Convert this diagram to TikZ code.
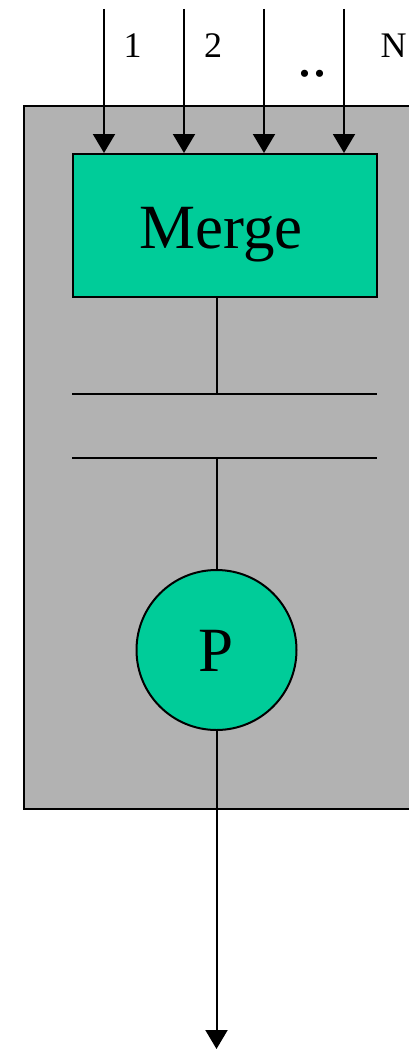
\documentclass[tikz,border=0pt]{standalone}
\usepackage{fontspec}
\setmainfont{Liberation Serif}
\usetikzlibrary{arrows.meta}
\definecolor{boxgreen}{HTML}{00CC99}
\definecolor{casegray}{HTML}{B2B2B2}
\tikzset{
  wire/.style={line width=2pt, draw=black},
  arr/.style={wire, -{Triangle[width=22pt,length=19pt]}},
  unit/.style={draw=black, line width=2pt, fill=boxgreen, inner sep=0pt},
  lbl/.style={inner sep=0pt, anchor=base, font=\fontsize{36}{40}\selectfont},
}
\begin{document}
\begin{tikzpicture}[x=1pt,y=-1pt]
  \useasboundingbox (0,0) rectangle (408,1049);
  % housing
  \draw[line width=2pt, fill=casegray] (24,106) rectangle (420,809);
  % merge unit
  \node[unit, rectangle, minimum width=304pt, minimum height=143pt]
    (merge) at (224.5,225.5) {};
  \node[inner sep=0pt, anchor=base, font=\fontsize{63}{70}\selectfont]
    (mergetext) at (221,248) {Merge};
  % input streams
  \foreach \i/\x in {1/104,2/184,3/264,4/344} {
    \coordinate (in\i) at (\x,9);
    \draw[arr] (in\i) -- (in\i |- merge.north);
  }
  \node[lbl] (l1) at (132.5,57) {1};
  \node[lbl] (l2) at (213,57) {2};
  \node[lbl, font=\fontsize{60}{66}\selectfont] (ldots) at (312,76) {..};
  \node[lbl] (lN) at (393.5,57) {N};
  % buffer
  \coordinate (b1l) at (72,394);
  \coordinate (b1r) at (377,394);
  \coordinate (b2l) at (72,458);
  \coordinate (b2r) at (377,458);
  \draw[wire] (b1l) -- (b1r);
  \draw[wire] (b2l) -- (b2r);
  % processor
  \node[unit, circle, minimum size=160pt, text height=42pt, text depth=0pt,
        font=\fontsize{63}{70}\selectfont] (p) at (216.5,650) {P};
  \coordinate (out) at (216.5,1049);
  \draw[wire] (p.north |- merge.south) -- (p.north |- b1l);
  \draw[wire] (p.north |- b2l) -- (p.north);
  \draw[arr] (p.south) -- (out);
\end{tikzpicture}
\end{document}
